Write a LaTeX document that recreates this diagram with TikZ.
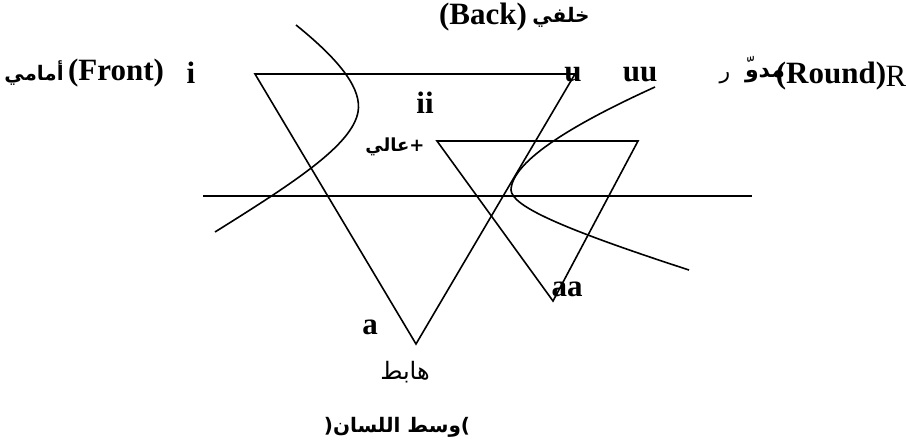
\documentclass[tikz,border=0pt]{standalone}
\usepackage{fontspec}
\setmainfont{Liberation Serif}
\newfontfamily\arabicfont[Script=Arabic]{DejaVu Sans}
\TeXXeTstate=1
\usetikzlibrary{positioning}

\begin{document}
\begin{tikzpicture}[
    x=1pt, y=-1pt,
    line/.style={line width=1.6pt, line join=miter},
    lbl/.style={inner sep=0pt, font=\fontsize{31}{33}\selectfont\bfseries},
    arlbl/.style={inner sep=0pt, font=\arabicfont\fontsize{20}{24}\selectfont\bfseries},
    plain/.style={inner sep=0pt, font=\fontsize{31}{33}\selectfont}
]
\useasboundingbox (0,0) rectangle (906,447);

% Triangles (front open / back)
\coordinate (T1) at (255,74);
\coordinate (T2) at (575,74);
\coordinate (T3) at (416,344);
\coordinate (S1) at (437,141);
\coordinate (S2) at (638,141);
\coordinate (S3) at (553,301);
\draw[line] (T1) -- (T2) -- (T3) -- cycle;
\draw[line] (S1) -- (S2) -- (S3) -- cycle;

% Middle line
\coordinate (M1) at (203,196);
\coordinate (M2) at (752,196);
\draw[line] (M1) -- (M2);

% Curves
\coordinate (L1) at (296,25);
\coordinate (L2) at (358,112);
\coordinate (L3) at (215,232);
\draw[line] (L1) .. controls (342,62) and (362,90) .. (L2)
                 .. controls (352,145) and (295,182) .. (L3);
\coordinate (R1) at (655,87);
\coordinate (R2) at (511,190);
\coordinate (R3) at (689,270);
\draw[line] (R1) .. controls (578,122) and (512,160) .. (R2)
                 .. controls (512,206) and (560,228) .. (R3);

% Top labels
\node[arlbl] (arfront) at (34,73) {أمامي};
\node[lbl] (front) at (116,73) {(Front)};
\node[lbl] (i) at (191,73) {i};
\node[lbl] (back) at (483,17) {(Back)};
\node[arlbl] (arback) at (561,17) {خلفي};
\node[lbl] (u) at (573,75) {u};
\node[lbl] (uu) at (640,75) {uu};
\node[arlbl, font=\arabicfont\fontsize{22}{26}\selectfont] (ra) at (725,78) {ر};
\node[arlbl, font=\arabicfont\fontsize{22}{26}\selectfont] (shadda) at (745,66) {ّ};
\node[arlbl, font=\arabicfont\fontsize{22}{26}\selectfont\bfseries] (mdw) at (765,76) {مدو};
\node[lbl] (round) at (831,76) {(Round)};
\node[plain] (R) at (896,76) {R};

% Inner labels
\node[arlbl, font=\arabicfont\fontsize{18}{22}\selectfont\bfseries] (high) at (395,147) {{\arabicfont\beginR عالي\endR}+};
\node[lbl] (ii) at (425,103) {ii};
\node[lbl] (a) at (370,327) {a};
\node[lbl] (aa) at (567,289) {aa};

% Bottom labels
\node[arlbl, font=\arabicfont\fontsize{24}{28}\selectfont] (low) at (405,372) {\beginR هابط\endR};
\node[arlbl] (central) at (397,427) {\textbf{(}{\arabicfont\beginR وسط اللسان\endR}\textbf{)}};

\end{tikzpicture}
\end{document}
